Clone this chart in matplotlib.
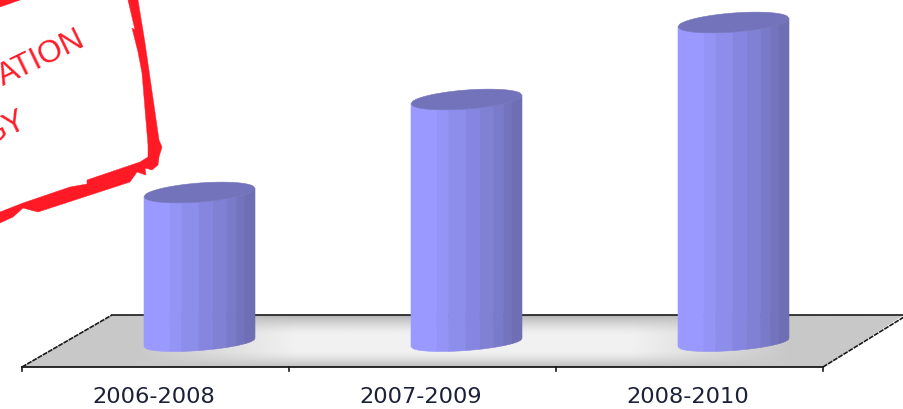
import numpy as np
import matplotlib
matplotlib.use("Agg")
import matplotlib.pyplot as plt
from matplotlib.patches import Polygon

periods = ["2006-2008", "2007-2009", "2008-2010"]
values = [150, 243, 320]

W, H = 904, 409
FRONT_Y, BACK_Y = 367, 315
AXIS_LEFT, AXIS_RIGHT = 22, 823
BASE_Y = 342.5
BAR_W = 111
SHEAR = -0.075
RED = "#ff1a26"

# cylinder shading, left to right
band_edges = [0, 0.233, 0.337, 0.493, 0.621, 0.74, 0.83, 0.91, 1]
band_colors = ["#9999ff", "#9494f7", "#8d8deb", "#8686e0", "#8080d5", "#7a7aca", "#7474be", "#6e6eb4"]
top_color = "#7373bb"

fig = plt.figure(figsize=(W / 100, H / 100), dpi=100)
ax = fig.add_axes([0, 0, 1, 1])
ax.axis("off")


def ellipse_y(x, cx, cy, b, side=1):
    # side=1 gives the front half of the tilted ellipse, -1 the back half
    u = np.clip((x - cx) / (BAR_W / 2), -1, 1)
    return cy + side * b * np.sqrt(1 - u**2) + SHEAR * (x - cx)


# floor: flat gray at the sides, bright in the middle, dark along the back edge
floor = Polygon([(AXIS_LEFT, FRONT_Y), (AXIS_RIGHT, FRONT_Y), (904, BACK_Y), (112, BACK_Y)],
                closed=True, fc="none", ec="none")
ax.add_patch(floor)
xx, yy = np.meshgrid(np.linspace(0, 1, 450), np.linspace(0, 1, 60))
dx = np.clip((np.abs(xx - 0.5) / 0.5 - 0.38) / 0.36, 0, 1)
dy_back = np.clip(1 - yy / 0.38, 0, 1)
dy_front = np.clip((yy - 0.68) / 0.32, 0, 1)
mid = 1 - dx
gray = 0.945 - 0.16 * dx - mid * (0.24 * dy_back**1.5 + 0.19 * dy_front**1.5)
img = ax.imshow(gray, cmap="gray", vmin=0, vmax=1, aspect="auto", extent=(22, 904, FRONT_Y, BACK_Y), zorder=1)
img.set_clip_path(floor)

ax.plot([112, 904], [BACK_Y, BACK_Y], color="#1a1a1a", lw=1.2, zorder=2)
ax.plot([AXIS_LEFT, AXIS_RIGHT], [FRONT_Y, FRONT_Y], color="#1a1a1a", lw=1.3, zorder=2)
ax.plot([AXIS_LEFT, 112], [FRONT_Y, BACK_Y], color="#1a1a1a", lw=1.2, ls=(0, (3, 0.6)), zorder=2)
ax.plot([AXIS_RIGHT, 904], [FRONT_Y, BACK_Y + 2], color="#1a1a1a", lw=1.2, ls=(0, (3, 0.6)), zorder=2)

step = (AXIS_RIGHT - AXIS_LEFT) / len(periods)
for i in range(len(periods) + 1):
    tick_x = AXIS_LEFT + i * step
    ax.plot([tick_x, tick_x], [FRONT_Y, FRONT_Y + 4], color="#1a1a1a", lw=1.2, zorder=2)

for i, (label, value) in enumerate(zip(periods, values)):
    slot_mid = AXIS_LEFT + (i + 0.5) * step
    cx = slot_mid + 44
    top_y = BASE_Y - value
    left = cx - BAR_W / 2

    for k, color in enumerate(band_colors):
        xs = np.linspace(left + band_edges[k] * BAR_W, left + band_edges[k + 1] * BAR_W, 12)
        upper = ellipse_y(xs, cx, top_y, 9.5)
        lower = ellipse_y(xs, cx, BASE_Y, 8)
        pts = np.r_[np.c_[xs, upper], np.c_[xs[::-1], lower[::-1]]]
        ax.add_patch(Polygon(pts, closed=True, fc=color, ec=color, lw=0.4, zorder=3))

    xs = np.linspace(left, left + BAR_W, 60)
    cap = np.r_[np.c_[xs, ellipse_y(xs, cx, top_y, 9.5)],
                np.c_[xs[::-1], ellipse_y(xs[::-1], cx, top_y, 9.5, side=-1)]]
    ax.add_patch(Polygon(cap, closed=True, fc=top_color, ec=top_color, lw=0.4, zorder=4))

    ax.text(slot_mid - 2, 397, label, ha="center", va="center", fontsize=16.2,
            family="DejaVu Sans", color="#1c2038", zorder=5)

# stamp in the corner
border = np.array([(138, 0), (145, 43), (159, 140), (162, 147), (159, 157), (158, 165), (152, 170),
                   (145, 168), (146, 175), (137, 172), (130, 182), (38, 212), (23, 208), (13, 217),
                   (0, 223), (0, 212), (23, 203), (70, 187), (87, 184), (87, 180), (140, 162),
                   (148, 157), (148, 145), (142, 73), (138, 52), (132, 28), (135, 30), (128, 0)])
ax.add_patch(Polygon(border, closed=True, fc=RED, ec=RED, lw=0.3, zorder=6))
ax.add_patch(Polygon([(0, 0), (20, 0), (0, 7)], closed=True, fc=RED, ec=RED, lw=0.3, zorder=6))

ax.text(87, 45, "ATION", rotation=26, rotation_mode="anchor", ha="right", va="baseline",
        fontsize=22.5, family="Liberation Sans", color=RED, zorder=6)
ax.text(28, 126, "GY", rotation=26, rotation_mode="anchor", ha="right", va="baseline",
        fontsize=22.5, family="Liberation Sans", color=RED, zorder=6)

ax.set_xlim(0, W)
ax.set_ylim(H, 0)
fig.savefig("out.png", dpi=100, facecolor="white")
